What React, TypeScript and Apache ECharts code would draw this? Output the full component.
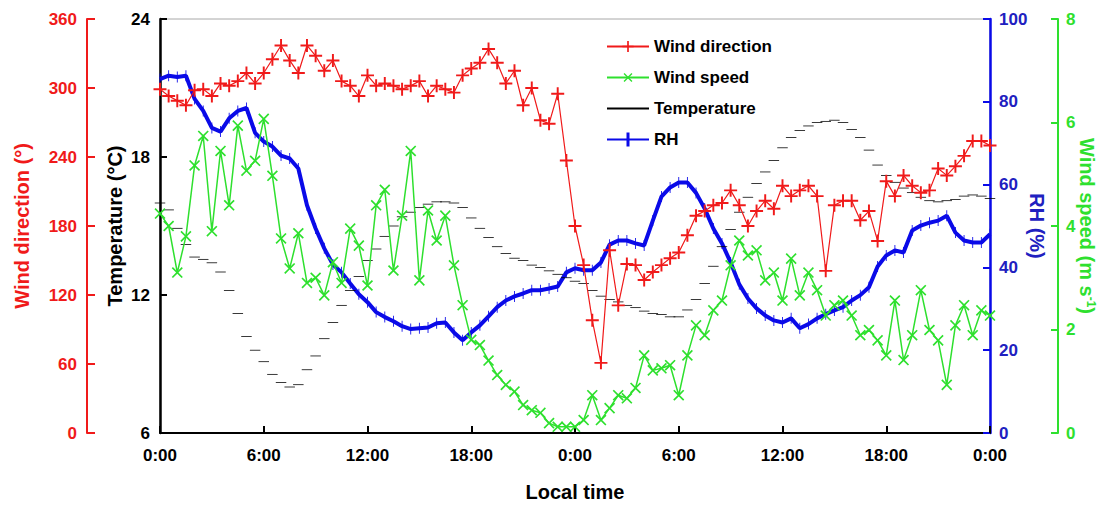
import React, { useEffect, useRef } from 'react';
import * as echarts from 'echarts';

// Sampling step of all series (hours since first midnight)
const STEP_HOURS = 0.5;

const X_MIN = 0;
const X_MAX = 48;
const X_INTERVAL = 6;

// Wind direction (°), every 30 min
const WIND_DIR = [
  299, 293, 289, 285, 298, 299, 293, 304, 302, 306,
  313, 304, 313, 325, 337, 324, 313, 337, 328, 315,
  324, 306, 302, 293, 311, 302, 304, 302, 299, 302,
  306, 293, 302, 299, 296, 311, 317, 322, 334, 322,
  304, 315, 285, 300, 272, 269, 295, 237, 180, 146,
  98, 61, 159, 111, 147, 146, 133, 140, 146, 152,
  157, 172, 189, 193, 198, 200, 211, 198, 180, 193,
  202, 195, 215, 206, 211, 215, 206, 141, 198, 202,
  202, 185, 193, 167, 219, 206, 224, 215, 209, 211,
  230, 224, 232, 241, 254, 254, 250,
];

// Wind speed (m s-1)
const WIND_SPEED = [
  4.24, 4.0, 3.1, 3.8, 5.17, 5.74, 3.9, 5.45, 4.4, 5.94,
  5.07, 5.26, 6.07, 4.97, 3.76, 3.18, 3.86, 2.9, 3.0, 2.66,
  3.3, 2.9, 3.95, 3.62, 2.85, 4.4, 4.7, 3.14, 4.2, 5.45,
  2.95, 4.3, 3.72, 4.2, 3.24, 2.47, 1.8, 1.7, 1.4, 1.12,
  0.93, 0.8, 0.54, 0.44, 0.39, 0.19, 0.12, 0.12, 0.12, 0.25,
  0.73, 0.25, 0.48, 0.73, 0.67, 0.87, 1.5, 1.21, 1.25, 1.31,
  0.73, 1.5, 2.08, 1.89, 2.37, 2.56, 3.24, 3.72, 3.43, 3.53,
  2.95, 3.1, 2.56, 3.37, 2.66, 3.1, 2.76, 2.27, 2.47, 2.56,
  2.27, 1.89, 1.99, 1.79, 1.5, 2.56, 1.41, 1.89, 2.76, 1.99,
  1.79, 0.93, 2.08, 2.47, 1.89, 2.37, 2.27,
];

// Temperature (°C)
const TEMPERATURE = [
  16.0, 15.7, 14.9, 14.2, 13.65, 13.55, 13.4, 13.0, 12.2, 11.2,
  10.2, 9.6, 9.1, 8.55, 8.2, 8.0, 8.1, 8.75, 9.35, 10.1,
  10.8, 11.55, 12.2, 12.8, 13.5, 14.0, 14.55, 15.0, 15.4, 15.6,
  15.8, 15.95, 16.05, 16.05, 16.0, 15.8, 15.35, 14.9, 14.5, 14.1,
  13.8, 13.6, 13.5, 13.3, 13.2, 13.05, 12.9, 12.75, 12.6, 12.5,
  12.2, 11.95, 11.8, 11.7, 11.55, 11.45, 11.3, 11.2, 11.15, 11.05,
  11.05, 11.35, 11.8, 12.5, 13.25, 14.1, 14.85, 15.6, 16.25, 16.85,
  17.35, 17.85, 18.4, 18.85, 19.15, 19.35, 19.5, 19.55, 19.6, 19.5,
  19.2, 18.85, 18.3, 17.65, 17.2, 16.9, 16.65, 16.45, 16.25, 16.1,
  16.05, 16.1, 16.15, 16.3, 16.35, 16.3, 16.2,
];

// Relative humidity (%)
const RH = [
  85.5, 86.3, 86, 86.3, 80.7, 77.8, 73.7, 72.8, 76, 77.8,
  78.5, 72.5, 70.4, 69.2, 67, 66.3, 63.9, 55, 49.4, 44.6,
  40.7, 38.8, 36.1, 33.5, 31.6, 29.2, 28, 27, 25.8, 25.1,
  25.3, 25.5, 26.5, 26.7, 24.3, 22.4, 24.3, 26, 28.2, 30.4,
  32, 33, 33.7, 34.5, 34.5, 34.9, 35.4, 38.8, 39.8, 39.3,
  39.3, 41.2, 45.5, 46.5, 46.5, 45.8, 45.3, 51.3, 57.1, 59.3,
  60.5, 60.5, 58, 54.2, 49.4, 45.8, 41.2, 35.9, 32.5, 30.1,
  28.4, 27.2, 26.7, 27.7, 25.3, 26.3, 27.7, 28.7, 29.6, 30.4,
  32, 33.3, 35.2, 40.2, 42.9, 44.1, 43.6, 48.9, 50.1, 50.8,
  51.3, 52.5, 48.4, 46.5, 46, 46, 48,
];

const RED = '#f01a1a';
const GREEN = '#2ee02e';
const BLUE = '#0a0ae8';
const BLUE_TEXT = '#2020c0';
const BLACK = '#000000';
const FONT = 'Arial, "Liberation Sans", Helvetica, sans-serif';

const PLUS =
  'path://M-1,-0.15L-0.15,-0.15L-0.15,-1L0.15,-1L0.15,-0.15L1,-0.15L1,0.15L0.15,0.15L0.15,1L-0.15,1L-0.15,0.15L-1,0.15Z';
const CROSS =
  'path://M-1,-0.12L-0.12,-0.12L-0.12,-1L0.12,-1L0.12,-0.12L1,-0.12L1,0.12L0.12,0.12L0.12,1L-0.12,1L-0.12,0.12L-1,0.12Z';
const DASH = 'path://M0,0L36,0L36,10L0,10Z';
const VBAR = 'path://M0,0L10,0L10,35L0,35Z';
// legend icons (42 x 14 design box)
const LEG_TEMP_LINE = 'path://M0,6H42V8H0Z';
const LEG_RH = 'path://M0,6H19.5V0H22.5V6H42V8H22.5V14H19.5V8H0Z';

const toPairs = (arr: number[]) => arr.map((v, i) => [i * STEP_HOURS, v]);

const tickFont = { fontSize: 17, fontWeight: 'bold' as const, fontFamily: FONT };
const nameFont = { fontSize: 20, fontWeight: 'bold' as const, fontFamily: FONT };

export default function App() {
  const ref = useRef<HTMLDivElement>(null);

  useEffect(() => {
    if (!ref.current) return;
    const chart = echarts.init(ref.current, null, { renderer: 'svg' });
    const option: any = {
      animation: false,
      backgroundColor: '#ffffff',
      grid: {
        left: 160,
        right: 115,
        top: 19,
        bottom: 76,
        outerBoundsMode: 'none',
        containLabel: false,
        show: true,
        borderColor: '#a8a8a8',
        borderWidth: 1,
        backgroundColor: 'transparent',
      },
      legend: {
        orient: 'vertical',
        left: 601,
        top: 33,
        itemWidth: 42,
        itemHeight: 14,
        itemGap: 14,
        textStyle: { ...tickFont, color: BLACK },
        data: [
          { name: 'Wind direction' },
          { name: 'Wind speed' },
          { name: 'Temperature', icon: LEG_TEMP_LINE },
          { name: 'RH', icon: LEG_RH },
        ],
      },
      xAxis: {
        type: 'value',
        min: X_MIN,
        max: X_MAX,
        interval: X_INTERVAL,
        splitLine: { show: false },
        axisLine: { onZero: false, lineStyle: { color: BLACK, width: 2 } },
        axisTick: { inside: true, length: 7, lineStyle: { color: BLACK, width: 2 } },
        axisLabel: {
          ...tickFont,
          color: BLACK,
          margin: 14,
          formatter: (v: number) => `${v % 24}:00`,
        },
        name: 'Local time',
        nameLocation: 'middle',
        nameGap: 49,
        nameMoveOverlap: false,
        nameTextStyle: { ...nameFont, color: BLACK },
      },
      yAxis: [
        {
          type: 'value',
          position: 'left',
          offset: 0,
          min: 6,
          max: 24,
          interval: 6,
          splitLine: { show: false },
          axisLine: { show: true, onZero: false, lineStyle: { color: BLACK, width: 2.5 } },
          axisTick: { show: true, inside: true, length: 7, lineStyle: { color: BLACK, width: 2 } },
          axisLabel: { ...tickFont, color: BLACK, margin: 10 },
          name: 'Temperature (°C)',
          nameLocation: 'middle',
          nameRotate: 90,
          nameGap: 35,
          nameMoveOverlap: false,
          nameTextStyle: { ...nameFont, color: BLACK },
        },
        {
          type: 'value',
          position: 'left',
          offset: 73,
          min: 0,
          max: 360,
          interval: 60,
          splitLine: { show: false },
          axisLine: { show: true, onZero: false, lineStyle: { color: RED, width: 2 } },
          axisTick: { show: true, inside: true, length: 8, lineStyle: { color: RED, width: 2 } },
          axisLabel: { ...tickFont, color: RED, margin: 10 },
          name: 'Wind direction (°)',
          nameLocation: 'middle',
          nameRotate: 90,
          nameGap: 55,
          nameMoveOverlap: false,
          nameTextStyle: { ...nameFont, color: RED },
        },
        {
          type: 'value',
          position: 'right',
          offset: 0,
          min: 0,
          max: 100,
          interval: 20,
          splitLine: { show: false },
          axisLine: { show: true, onZero: false, lineStyle: { color: BLUE, width: 2.5 } },
          axisTick: { show: true, inside: true, length: 7, lineStyle: { color: BLUE, width: 2 } },
          axisLabel: { ...tickFont, color: BLUE_TEXT, margin: 9 },
          name: 'RH (%)',
          nameLocation: 'middle',
          nameRotate: -90,
          nameGap: 37,
          nameMoveOverlap: false,
          nameTextStyle: { ...nameFont, color: BLUE_TEXT },
        },
        {
          type: 'value',
          position: 'right',
          offset: 68,
          min: 0,
          max: 8,
          interval: 2,
          splitLine: { show: false },
          axisLine: { show: true, onZero: false, lineStyle: { color: GREEN, width: 2 } },
          axisTick: { show: true, inside: true, length: 7, lineStyle: { color: GREEN, width: 2 } },
          axisLabel: { ...tickFont, color: GREEN, margin: 8 },
          name: 'Wind speed (m s{sup|-1})',
          nameLocation: 'middle',
          nameRotate: -90,
          nameGap: 19,
          nameMoveOverlap: false,
          nameTextStyle: {
            ...nameFont,
            color: GREEN,
            lineHeight: 20,
            rich: {
              sup: {
                fontSize: 12,
                fontWeight: 'bold',
                fontFamily: FONT,
                color: GREEN,
                verticalAlign: 'top',
                lineHeight: 20,
              },
            },
          },
        },
      ],
      series: [
        {
          name: 'RH',
          type: 'line',
          yAxisIndex: 2,
          data: toPairs(RH),
          symbol: VBAR,
          symbolKeepAspect: true,
          symbolSize: [3, 11],
          itemStyle: { color: BLUE },
          lineStyle: { color: BLUE, width: 4 },
          z: 2,
        },
        {
          name: 'Temperature',
          type: 'line',
          yAxisIndex: 0,
          data: toPairs(TEMPERATURE),
          symbol: DASH,
          symbolKeepAspect: true,
          symbolSize: [10.5, 2.8],
          itemStyle: { color: BLACK },
          lineStyle: { color: BLACK, width: 2, opacity: 0 },
          z: 3,
        },
        {
          name: 'Wind speed',
          type: 'line',
          yAxisIndex: 3,
          data: toPairs(WIND_SPEED),
          symbol: CROSS,
          symbolRotate: 45,
          symbolSize: 14,
          itemStyle: { color: GREEN },
          lineStyle: { color: GREEN, width: 1.5 },
          z: 4,
        },
        {
          name: 'Wind direction',
          type: 'line',
          yAxisIndex: 1,
          data: toPairs(WIND_DIR),
          symbol: PLUS,
          symbolSize: 13,
          itemStyle: { color: RED },
          lineStyle: { color: RED, width: 1.2 },
          z: 5,
        },
      ],
    };
    chart.setOption(option);
    return () => chart.dispose();
  }, []);

  return (
    <div
      ref={ref}
      style={{ position: 'absolute', left: 0, top: 0, width: 1105, height: 509, background: '#fff' }}
    />
  );
}
